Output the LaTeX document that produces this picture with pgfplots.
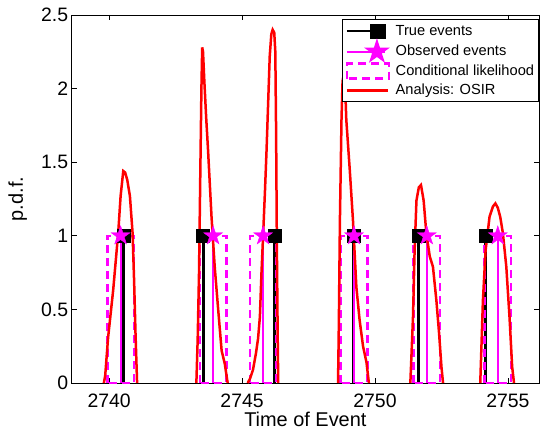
\documentclass[border=0pt]{standalone}
\usepackage{fontspec}
\setmainfont{Liberation Sans}
\usepackage{pgfplots}
\pgfplotsset{compat=1.18}
\usetikzlibrary{calc}
\pgfdeclareplotmark{fstar}{%
  \pgfpathmoveto{\pgfpointpolar{90}{\pgfplotmarksize}}%
  \pgfpathlineto{\pgfpointpolar{126}{0.382\pgfplotmarksize}}%
  \pgfpathlineto{\pgfpointpolar{162}{\pgfplotmarksize}}%
  \pgfpathlineto{\pgfpointpolar{198}{0.382\pgfplotmarksize}}%
  \pgfpathlineto{\pgfpointpolar{234}{\pgfplotmarksize}}%
  \pgfpathlineto{\pgfpointpolar{270}{0.382\pgfplotmarksize}}%
  \pgfpathlineto{\pgfpointpolar{306}{\pgfplotmarksize}}%
  \pgfpathlineto{\pgfpointpolar{342}{0.382\pgfplotmarksize}}%
  \pgfpathlineto{\pgfpointpolar{18}{\pgfplotmarksize}}%
  \pgfpathlineto{\pgfpointpolar{54}{0.382\pgfplotmarksize}}%
  \pgfpathclose\pgfusepathqfillstroke}
\definecolor{mmag}{rgb}{1,0,1}
\definecolor{mred}{rgb}{1,0,0}
\pgfplotsset{
  legTrue/.style={legend image code/.code={\draw[##1, mark=none] (0bp,0bp) -- (31bp,0bp); \draw[##1] plot coordinates {(31bp,0bp)};}},
  legObs/.style={legend image code/.code={\draw[##1, mark=none] (0bp,0bp) -- (38bp,0bp); \draw[##1] plot coordinates {(30bp,0bp)};}},
  legRect/.style={legend image code/.code={\draw[##1] (0bp,-7.5bp) rectangle (42bp,7.5bp);}},
  legLine/.style={legend image code/.code={\draw[##1] (0bp,0bp) -- (41bp,0bp);}},
}
\begin{document}
\begin{tikzpicture}
\begin{axis}[
  scale only axis, width=467.3bp, height=368bp,
  xmin=2738.59, xmax=2756.17, ymin=0, ymax=2.5,
  xtick={2740,2745,2750,2755}, ytick={0,0.5,1,1.5,2,2.5},
  tick align=inside, tick pos=both, major tick length=5bp,
  axis line style={line width=0.8bp}, every tick/.style={black, line width=0.8bp},
  /pgf/number format/assume math mode=true,
  xticklabel style={/pgf/number format/1000 sep={}, yshift=-7bp},
  tick label style={font=\fontsize{19.5}{22}\selectfont},
  label style={font=\fontsize{20}{24}\selectfont},
  xlabel={Time of Event}, ylabel={p.d.f.},
  xlabel style={at={(axis description cs:0.5,-0.098)}, anchor=center},
  ylabel style={at={(axis description cs:-0.1155,0.5)}, anchor=center},
  unbounded coords=jump,
  legend cell align=left,
  legend style={at={(1,0.988)}, anchor=north east, draw=black, line width=0.8bp,
    font=\fontsize{14.7}{17}\selectfont, row sep=2bp, column sep=4bp, inner xsep=3bp, inner ysep=3bp,
    nodes={inner sep=1.5bp, text height=11bp, text depth=3bp}},
]
% legend entries
\addlegendimage{black, line width=2.2bp, mark=square*, mark size=6.5bp, legTrue}
\addlegendentry{True events}
\addlegendimage{mmag, line width=2.2bp, mark=fstar, mark size=10bp, mark options={fill=mmag, draw=mmag}, legObs}
\addlegendentry{Observed events}

% true events
\addplot[black, line width=3bp, forget plot] coordinates {
(2740.55,0)(2740.55,1)(2740.55,nan)
(2743.53,0)(2743.53,1)(2743.53,nan)
(2746.21,0)(2746.21,1)(2746.21,nan)
(2749.21,0)(2749.21,1)(2749.21,nan)
(2751.65,0)(2751.65,1)(2751.65,nan)
(2754.15,0)(2754.15,1)};
\addplot[black, only marks, mark=square*, mark size=6.5bp, forget plot] coordinates {
(2740.55,1)(2743.53,1)(2746.21,1)(2749.21,1)(2751.65,1)(2754.15,1)};

% observed events
\addplot[mmag, line width=2.2bp, forget plot] coordinates {
(2740.43,0)(2740.43,1)(2740.43,nan)
(2743.91,0)(2743.91,1)(2743.91,nan)
(2745.79,0)(2745.79,1)(2745.79,nan)
(2749.21,0)(2749.21,1)(2749.21,nan)
(2751.95,0)(2751.95,1)(2751.95,nan)
(2754.62,0)(2754.62,1)};
\addplot[mmag, only marks, mark=fstar, mark size=10bp, mark options={fill=mmag, draw=mmag}, forget plot] coordinates {
(2740.43,1)(2743.91,1)(2745.79,1)(2749.21,1)(2751.95,1)(2754.62,1)};

% conditional likelihood
\addplot[mmag, line width=2.5bp, dash pattern=on 8bp off 5bp, legRect] coordinates {
(2739.93,0)(2739.93,1)(2740.93,1)(2740.93,0)(2739.93,0)(2739.93,nan)
(2743.41,0)(2743.41,1)(2744.41,1)(2744.41,0)(2743.41,0)(2743.41,nan)
(2745.29,0)(2745.29,1)(2746.29,1)(2746.29,0)(2745.29,0)(2745.29,nan)
(2748.71,0)(2748.71,1)(2749.71,1)(2749.71,0)(2748.71,0)(2748.71,nan)
(2751.45,0)(2751.45,1)(2752.45,1)(2752.45,0)(2751.45,0)(2751.45,nan)
(2754.12,0)(2754.12,1)(2755.12,1)(2755.12,0)(2754.12,0)};
\addlegendentry{Conditional likelihood}

% analysis OSIR
\addplot[mred, line width=2.5bp, legLine] coordinates {
(2739.80,0)(2739.85,0.05)(2739.96,0.31)(2740.15,0.63)(2740.34,1.02)(2740.43,1.27)(2740.53,1.44)(2740.60,1.43)(2740.68,1.38)(2740.78,1.27)(2740.88,1.02)(2740.94,0.68)(2740.99,0.34)(2741.05,0)(2741.05,nan)
(2743.28,0)(2743.33,0.3)(2743.38,0.75)(2743.43,1.45)(2743.47,2.0)(2743.50,2.28)(2743.53,2.25)(2743.58,2.05)(2743.65,1.80)(2743.72,1.58)(2743.85,1.13)(2743.97,0.79)(2744.10,0.50)(2744.23,0.22)(2744.35,0.13)(2744.44,0.02)(2744.46,0)(2744.46,nan)
(2745.21,0)(2745.30,0.03)(2745.41,0.09)(2745.52,0.20)(2745.60,0.30)(2745.67,0.45)(2745.73,0.75)(2745.79,1.00)(2745.86,1.30)(2745.92,1.58)(2746.04,2.22)(2746.10,2.37)(2746.15,2.40)(2746.21,2.38)(2746.25,2.25)(2746.28,1.70)(2746.31,0.90)(2746.34,0.30)(2746.36,0)(2746.36,nan)
(2748.61,0)(2748.64,0.4)(2748.68,1.1)(2748.74,1.79)(2748.78,2.05)(2748.83,2.10)(2748.88,2.0)(2748.92,1.79)(2749.05,1.45)(2749.17,1.11)(2749.30,0.65)(2749.42,0.43)(2749.55,0.25)(2749.68,0.14)(2749.77,0)(2749.77,nan)
(2751.33,0)(2751.43,0.45)(2751.49,0.90)(2751.56,1.24)(2751.65,1.33)(2751.73,1.345)(2751.83,1.24)(2751.93,1.02)(2752.06,0.86)(2752.18,0.79)(2752.31,0.56)(2752.41,0.34)(2752.50,0.11)(2752.56,0)(2752.56,nan)
(2753.96,0)(2754.06,0.56)(2754.16,0.90)(2754.31,1.13)(2754.44,1.20)(2754.53,1.22)(2754.62,1.19)(2754.71,1.13)(2754.81,1.02)(2754.94,0.79)(2755.06,0.45)(2755.16,0.11)(2755.23,0)};
\addlegendentry{Analysis: OSIR}
\end{axis}
\pgfresetboundingbox
\path ($(current axis.south west)+(-71.7bp,-49bp)$) rectangle ($(current axis.north east)+(1bp,15bp)$);
\end{tikzpicture}
\end{document}
